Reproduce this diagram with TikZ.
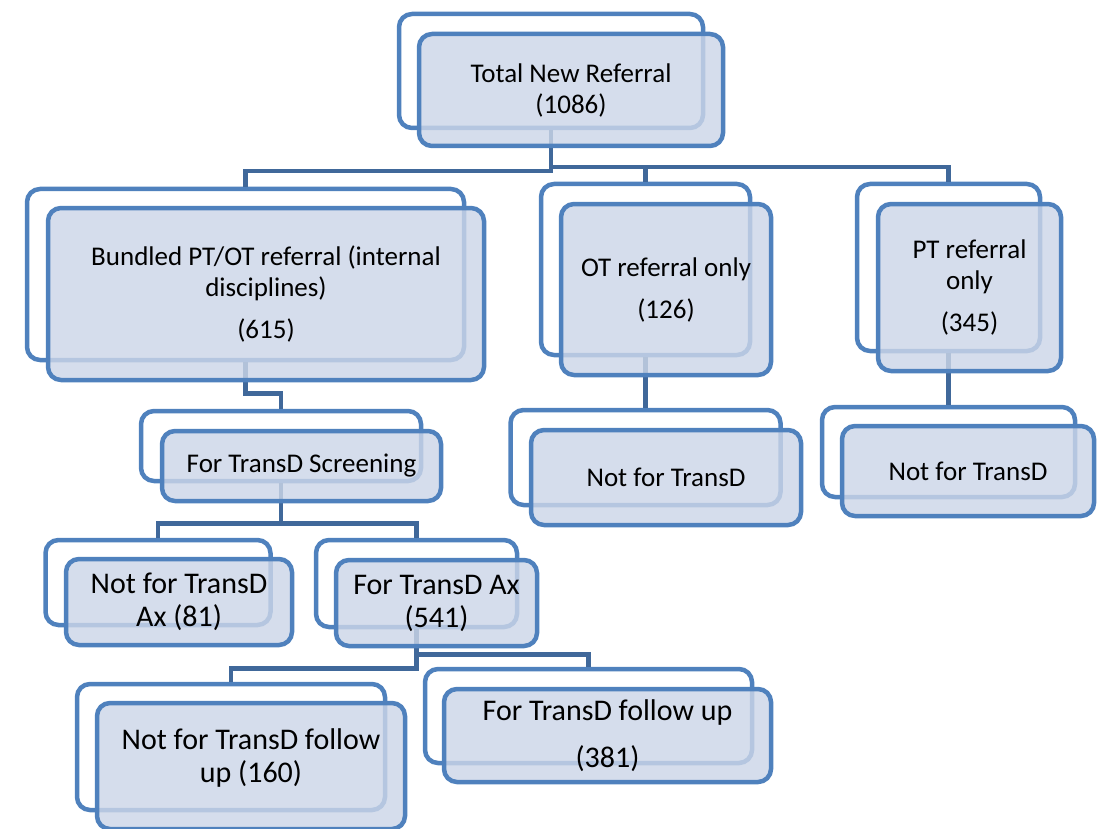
\documentclass[tikz,border=0pt]{standalone}
\usepackage{fontspec}
\setmainfont{Carlito}
\definecolor{boxblue}{RGB}{79,129,189}
\definecolor{connblue}{RGB}{64,104,154}
\definecolor{frontfill}{RGB}{204,214,232}
\begin{document}
\begin{tikzpicture}[x=1pt,y=-1pt,
  backbox/.style={draw=boxblue, line width=4.5pt, fill=white, rounded corners=13pt, inner sep=0pt},
  frontbox/.style={draw=boxblue, line width=4.5pt, fill=frontfill, fill opacity=0.82, text opacity=1, rounded corners=13pt, align=center, inner sep=0pt, font=\fontsize{27}{31}\selectfont},
  bigtext/.style={font=\fontsize{30}{33}\selectfont},
  conn/.style={draw=connblue, line width=4.5pt}]
\useasboundingbox (0,0) rectangle (1102,829);
% back boxes
\node[backbox, minimum width=304, minimum height=114] (b1) at (551,71) {};
\node[backbox, minimum width=437, minimum height=171] (b2) at (245.5,274.5) {};
\node[backbox, minimum width=209, minimum height=171] (b3) at (645.5,269.5) {};
\node[backbox, minimum width=183, minimum height=167] (b4) at (948.5,267.5) {};
\node[backbox, minimum width=280, minimum height=70] (b5) at (281,446) {};
\node[backbox, minimum width=270, minimum height=95] (b6) at (645.5,457.5) {};
\node[backbox, minimum width=253, minimum height=90] (b7) at (948.5,452) {};
\node[backbox, minimum width=225, minimum height=85] (b8) at (158,582.5) {};
\node[backbox, minimum width=201, minimum height=87] (b9) at (416.5,583.5) {};
\node[backbox, minimum width=308, minimum height=126] (b10) at (231,747) {};
\node[backbox, minimum width=327, minimum height=94] (b11) at (588.5,716) {};
% connectors
\draw[conn] (b1.south) -- ++(0,41) -| (b2.north);
\draw[conn] (b1.south) -- ++(0,37) -| (b3.north);
\draw[conn] (b1.south) -- ++(0,37) -| (b4.north);
\draw[conn] (b2.south) -- ++(0,31) -| (b5.north);
\draw[conn] (b3.south) -- (b6.north);
\draw[conn] (b4.south) -- (b7.north);
\draw[conn] (b5.south) -- ++(0,40) -| (b8.north);
\draw[conn] (b5.south) -- ++(0,40) -| (b9.north);
\draw[conn] (b9.south) -- ++(0,39) -| (b10.north);
\draw[conn] (b9.south) -- ++(0,25) -| (b11.north);
% front boxes
\node[frontbox, minimum width=304, minimum height=112] (f1) at (571,90) {Total New Referral\\(1086)};
\node[frontbox, minimum width=436, minimum height=172] (f2) at (266,294) {Bundled PT/OT referral (internal\\disciplines)\\[11pt](615)};
\node[frontbox, minimum width=210, minimum height=171] (f3) at (666,289.5) {OT referral only\\[11pt](126)};
\node[frontbox, minimum width=183, minimum height=167] (f4) at (969.5,287.5) {PT referral\\only\\[11pt](345)};
\node[frontbox, minimum width=279, minimum height=70] (f5) at (301.5,466) {For TransD Screening};
\node[frontbox, minimum width=270, minimum height=95] (f6) at (666,477.5) {Not for TransD};
\node[frontbox, minimum width=252, minimum height=90] (f7) at (968,471) {Not for TransD};
\node[frontbox, bigtext, minimum width=226, minimum height=86] (f8) at (179,602) {Not for TransD\\Ax (81)};
\node[frontbox, bigtext, minimum width=201, minimum height=86] (f9) at (436.5,603) {For TransD Ax\\(541)};
\node[frontbox, bigtext, minimum width=308, minimum height=126] (f10) at (251,766) {Not for TransD follow\\up (160)\\[-12pt]\mbox{}};
\node[frontbox, bigtext, minimum width=327, minimum height=93] (f11) at (607.5,735.5) {For TransD follow up\\[14pt](381)};
\end{tikzpicture}
\end{document}
